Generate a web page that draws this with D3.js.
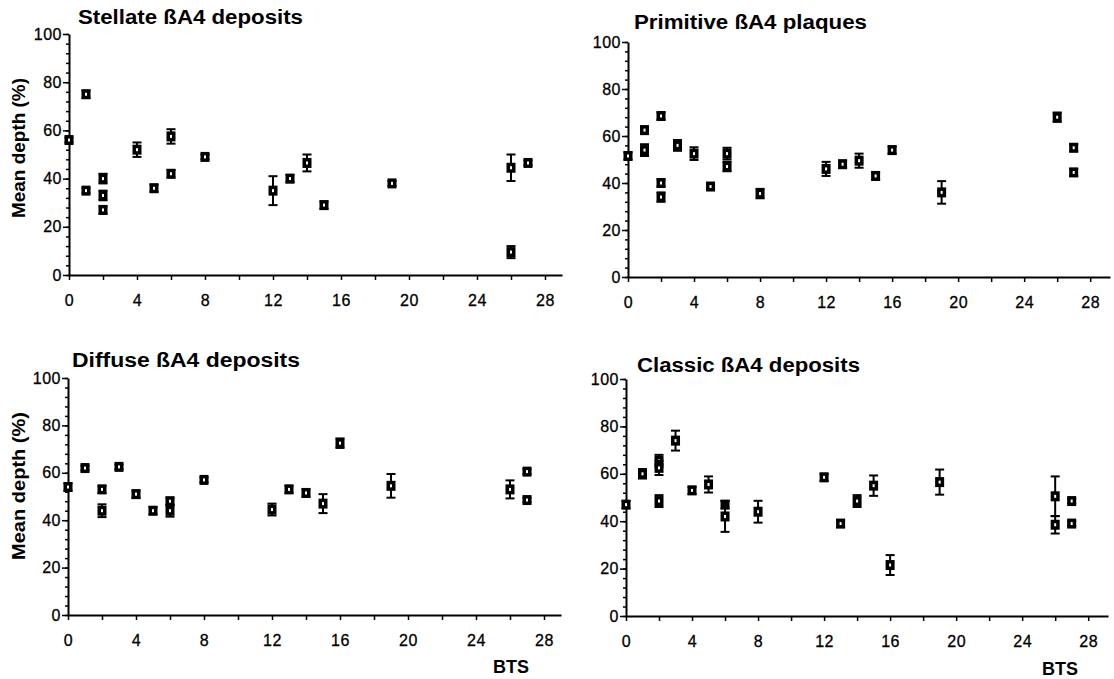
<!DOCTYPE html>
<html>
<head>
<meta charset="utf-8">
<script src="https://cdn.jsdelivr.net/npm/d3@7"></script>
<style>
  body { margin: 0; background: #fff; }
  text { font-family: "Liberation Sans", Arial, Helvetica, sans-serif; fill: #000; }
</style>
</head>
<body>
<div id="chart"></div>
<script>
const width = 1114;
const height = 679;

// values: BTS, mean depth (%), error (+/-)
const stellateBTS   = [0, 1, 1, 2, 2, 2, 4, 5, 6, 6, 8, 12, 13, 14, 15, 19, 26, 26, 27];
const stellateDepth = [56, 75, 35, 40, 33, 27, 52, 36, 57.5, 42, 49, 35, 40, 46.5, 29, 38, 44.5, 9.5, 46.5];
const stellateErr   = [1, 1.5, 1, 2, 2, 1.5, 3, 1.5, 3, 1.5, 1, 6, 1.5, 3.5, 1.5, 1, 5.5, 2.5, 1];

const primitiveBTS   = [0, 1, 1, 2, 2, 2, 3, 4, 5, 6, 6, 8, 12, 13, 14, 15, 16, 19, 26, 27, 27];
const primitiveDepth = [51.5, 62.5, 54, 68.5, 40, 34, 56, 52.5, 38.5, 52.5, 47, 35.5, 46, 48, 49.5, 43, 54, 36, 68, 55, 44.5];
const primitiveErr   = [1.5, 1.5, 2.5, 1.5, 1.5, 2, 2.3, 2.7, 1, 2.5, 2, 2, 3, 1.5, 3, 1.5, 1.5, 4.8, 2, 1.5, 1.5];

const diffuseBTS   = [0, 1, 2, 2, 3, 4, 5, 6, 6, 8, 12, 13, 14, 15, 16, 19, 26, 27, 27];
const diffuseDepth = [54, 62, 53, 44, 62.5, 51, 44, 48, 44, 57, 44.5, 53, 51.5, 47, 72.5, 54.5, 53, 60.5, 48.5];
const diffuseErr   = [1.5, 1, 1.5, 2.7, 1, 1.5, 1.5, 1.5, 2.5, 1, 2.5, 1.5, 1.5, 4, 2, 5, 3.8, 1, 1];

const classicBTS   = [0, 1, 2, 2, 2, 3, 4, 5, 6, 6, 8, 12, 13, 14, 15, 16, 19, 26, 26, 27, 27];
const classicDepth = [47, 60, 65.5, 62.5, 48.5, 74, 53, 55.5, 47, 42, 44, 58.5, 39, 48.5, 55, 21.5, 56.5, 50.5, 38.5, 48.5, 39];
const classicErr   = [1.5, 2, 2.5, 3, 2.5, 4.2, 1.5, 3.4, 1.5, 6.5, 4.6, 1.5, 1.5, 2.5, 4.3, 4.2, 5.3, 8.4, 3.7, 1, 1];

const xMajorTicks = [0, 4, 8, 12, 16, 20, 24, 28];
const yMajorTicks = [0, 20, 40, 60, 80, 100];

const titles = ["Stellate ßA4 deposits", "Primitive ßA4 plaques", "Diffuse ßA4 deposits", "Classic ßA4 deposits"];
const yTitle = "Mean depth (%)";
const xTitle = "BTS";

// layout of the four panels (pixels)
const panels = [
  { title: titles[0], bts: stellateBTS, depth: stellateDepth, err: stellateErr,
    x0: 69, x1: 562, xMax: 29, y0: 275, y1: 34, tx: 78, ty: 24, tw: 225,
    yt: { x: 25, y: 148, w: 140 } },
  { title: titles[1], bts: primitiveBTS, depth: primitiveDepth, err: primitiveErr,
    x0: 628, x1: 1110, xMax: 29.2, y0: 277, y1: 42, tx: 634, ty: 29, tw: 233 },
  { title: titles[2], bts: diffuseBTS, depth: diffuseDepth, err: diffuseErr,
    x0: 68, x1: 561, xMax: 29, y0: 615, y1: 378, tx: 72, ty: 367, tw: 228,
    yt: { x: 25, y: 486, w: 148 }, bt: { x: 511, y: 673 } },
  { title: titles[3], bts: classicBTS, depth: classicDepth, err: classicErr,
    x0: 626, x1: 1108, xMax: 29.2, y0: 616, y1: 379, tx: 637, ty: 372, tw: 223,
    bt: { x: 1060, y: 675 } }
];

const svg = d3.select("#chart").append("svg")
  .attr("width", width)
  .attr("height", height);

panels.forEach(function(p) {
  const x = d3.scaleLinear().domain([0, p.xMax]).range([p.x0, p.x1]);
  const y = d3.scaleLinear().domain([0, 100]).range([p.y0, p.y1]);
  const g = svg.append("g");

  // x axis: ticks every 2, labels every 4
  const xAxis = d3.axisBottom(x)
    .tickValues(d3.range(0, 29, 2))
    .tickFormat(d => xMajorTicks.includes(d) ? d : "")
    .tickSize(5)
    .tickSizeOuter(0);
  const gx = g.append("g").attr("transform", `translate(0,${p.y0})`).call(xAxis);
  gx.select(".domain").attr("stroke-width", 2);
  gx.selectAll(".tick line").attr("stroke-width", 1.5);
  gx.selectAll(".tick text")
    .attr("y", 20).attr("dy", "0.71em")
    .attr("stroke", "#000").attr("stroke-width", 0.3)
    .style("font-size", "16px").style("letter-spacing", "0.5px");

  // y axis: minor ticks every 4, labels every 20
  const gyMinor = g.append("g").attr("transform", `translate(${p.x0},0)`)
    .call(d3.axisLeft(y).tickValues(d3.range(0, 101, 4)).tickFormat("").tickSize(3).tickSizeOuter(0));
  gyMinor.select(".domain").remove();
  gyMinor.selectAll(".tick line").attr("stroke-width", 1.5);

  const gy = g.append("g").attr("transform", `translate(${p.x0},0)`)
    .call(d3.axisLeft(y).tickValues(yMajorTicks).tickSize(6).tickSizeOuter(0).tickPadding(1));
  gy.select(".domain").attr("stroke-width", 2);
  gy.selectAll(".tick line").attr("stroke-width", 1.5);
  gy.selectAll(".tick text")
    .attr("stroke", "#000").attr("stroke-width", 0.3)
    .style("font-size", "16px").style("letter-spacing", "0.5px");

  // title
  g.append("text")
    .attr("x", p.tx).attr("y", p.ty)
    .attr("textLength", p.tw).attr("lengthAdjust", "spacingAndGlyphs")
    .style("font-size", "20px").style("font-weight", "bold")
    .text(p.title);

  if (p.yt) {
    g.append("text")
      .attr("transform", `translate(${p.yt.x},${p.yt.y}) rotate(-90)`)
      .attr("text-anchor", "middle")
      .attr("textLength", p.yt.w).attr("lengthAdjust", "spacingAndGlyphs")
      .style("font-size", "18px").style("font-weight", "bold")
      .text(yTitle);
  }
  if (p.bt) {
    g.append("text")
      .attr("x", p.bt.x).attr("y", p.bt.y)
      .attr("text-anchor", "middle")
      .style("font-size", "18px").style("font-weight", "bold")
      .text(xTitle);
  }

  const pts = p.bts.map((b, i) => ({ bts: b, depth: p.depth[i], err: p.err[i] }));
  const pg = g.append("g").selectAll("g").data(pts).enter().append("g");

  // error bars
  pg.append("line")
    .attr("x1", d => x(d.bts)).attr("x2", d => x(d.bts))
    .attr("y1", d => y(d.depth - d.err)).attr("y2", d => y(d.depth + d.err))
    .attr("stroke", "#000").attr("stroke-width", 2);
  pg.append("line")
    .attr("x1", d => x(d.bts) - 4.5).attr("x2", d => x(d.bts) + 4.5)
    .attr("y1", d => y(d.depth + d.err)).attr("y2", d => y(d.depth + d.err))
    .attr("stroke", "#000").attr("stroke-width", 2);
  pg.append("line")
    .attr("x1", d => x(d.bts) - 4.5).attr("x2", d => x(d.bts) + 4.5)
    .attr("y1", d => y(d.depth - d.err)).attr("y2", d => y(d.depth - d.err))
    .attr("stroke", "#000").attr("stroke-width", 2);

  // square markers: black with a small white centre
  pg.append("rect")
    .attr("x", d => x(d.bts) - 2.75).attr("y", d => y(d.depth) - 3.25)
    .attr("width", 5.5).attr("height", 6.5)
    .attr("fill", "#fff").attr("stroke", "#000").attr("stroke-width", 3.5);
});
</script>
</body>
</html>
